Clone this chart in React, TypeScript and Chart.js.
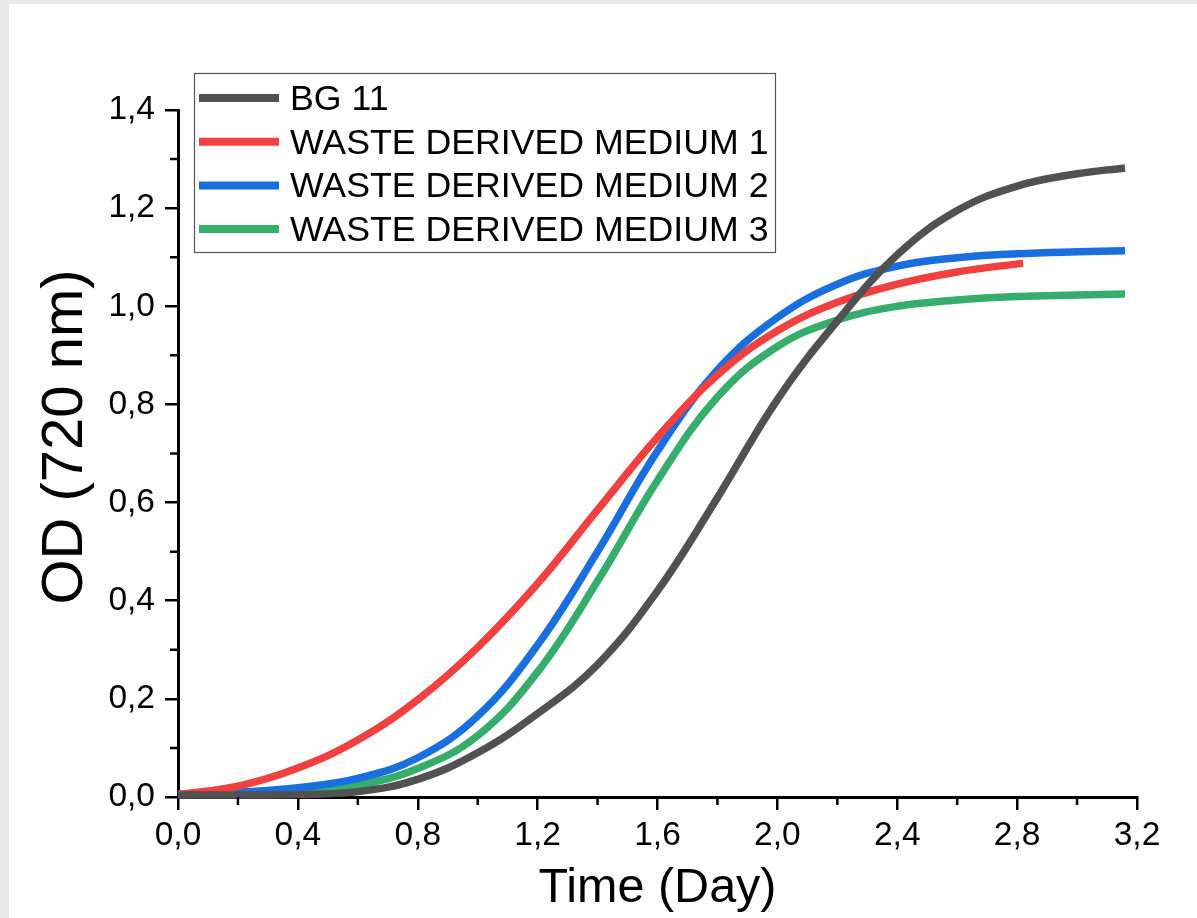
import React, { useEffect, useRef } from "react";
import { Chart, registerables } from "chart.js";

Chart.register(...registerables);

// ---------- data ----------
const seriesLabels = [
  "BG 11",
  "WASTE DERIVED MEDIUM 1",
  "WASTE DERIVED MEDIUM 2",
  "WASTE DERIVED MEDIUM 3",
];
const seriesColors = ["#515151", "#F14040", "#1A6FDF", "#37AD6B"];

const timeFull = [0, 0.2, 0.4, 0.6, 0.8, 1.0, 1.2, 1.4, 1.6, 1.8, 2.0, 2.2, 2.4, 2.6, 2.8, 3.0, 3.16];
const timeMedium1 = [0, 0.2, 0.4, 0.6, 0.8, 1.0, 1.2, 1.4, 1.6, 1.8, 2.0, 2.2, 2.4, 2.6, 2.82];

const odBG11 = [0.004, 0.004, 0.005, 0.011, 0.036, 0.09, 0.17, 0.27, 0.42, 0.61, 0.81, 0.97, 1.105, 1.195, 1.245, 1.27, 1.282];
const odMedium1 = [0.005, 0.022, 0.059, 0.116, 0.198, 0.305, 0.435, 0.585, 0.733, 0.86, 0.95, 1.008, 1.045, 1.07, 1.088];
const odMedium2 = [0.005, 0.01, 0.019, 0.038, 0.08, 0.165, 0.31, 0.5, 0.705, 0.87, 0.977, 1.045, 1.082, 1.099, 1.107, 1.111, 1.113];
const odMedium3 = [0.005, 0.007, 0.011, 0.024, 0.058, 0.125, 0.255, 0.44, 0.645, 0.815, 0.918, 0.972, 1.0, 1.013, 1.02, 1.023, 1.025];

const xMajorTicks = [0, 0.4, 0.8, 1.2, 1.6, 2.0, 2.4, 2.8, 3.2];
const xMinorTicks = [0.2, 0.6, 1.0, 1.4, 1.8, 2.2, 2.6, 3.0];
const yMajorTicks = [0, 0.2, 0.4, 0.6, 0.8, 1.0, 1.2, 1.4];
const yMinorTicks = [0.1, 0.3, 0.5, 0.7, 0.9, 1.1, 1.3];

const xTitle = "Time (Day)";
const yTitle = "OD (720 nm)";

// ---------- helpers ----------
const FONT = "'Liberation Sans', Arial, sans-serif";
const zip = (xs: number[], ys: number[]) => xs.map((x, i) => ({ x, y: ys[i] }));
const fmt = (v: number) => Number(v).toFixed(1).replace(".", ",");

const decorPlugin = {
  id: "decor",
  afterDraw(chart: any) {
    const ctx = chart.ctx as CanvasRenderingContext2D;
    const xs = chart.scales.x;
    const ys = chart.scales.y;
    const area = chart.chartArea;
    ctx.save();
    // minor ticks
    ctx.strokeStyle = "#000";
    ctx.lineWidth = 2.5;
    ctx.beginPath();
    xMinorTicks.forEach((v) => {
      const px = xs.getPixelForValue(v);
      ctx.moveTo(px, area.bottom);
      ctx.lineTo(px, area.bottom + 8);
    });
    yMinorTicks.forEach((v) => {
      const py = ys.getPixelForValue(v);
      ctx.moveTo(area.left, py);
      ctx.lineTo(area.left - 8, py);
    });
    ctx.stroke();

    // axis titles
    ctx.fillStyle = "#000";
    ctx.textAlign = "center";
    ctx.textBaseline = "alphabetic";
    ctx.font = `48.5px ${FONT}`;
    ctx.fillText(xTitle, (area.left + area.right) / 2, 898);
    ctx.save();
    ctx.translate(73, 433);
    ctx.rotate(-Math.PI / 2);
    ctx.font = `58px ${FONT}`;
    ctx.fillText(yTitle, 0, 0);
    ctx.restore();

    // legend
    const bx = 185, by = 69, bw = 581, bh = 179;
    ctx.fillStyle = "#fff";
    ctx.fillRect(bx, by, bw, bh);
    ctx.strokeStyle = "#555";
    ctx.lineWidth = 1.2;
    ctx.strokeRect(bx + 0.5, by + 0.5, bw, bh);
    const rowGap = 43.7;
    chart.data.datasets.forEach((ds: any, i: number) => {
      const cy = 94 + i * rowGap;
      ctx.strokeStyle = ds.borderColor;
      ctx.lineWidth = 8;
      ctx.lineCap = "butt";
      ctx.beginPath();
      ctx.moveTo(190, cy);
      ctx.lineTo(270, cy);
      ctx.stroke();
      ctx.fillStyle = "#000";
      ctx.textAlign = "left";
      ctx.textBaseline = "alphabetic";
      ctx.font = `35.7px ${FONT}`;
      ctx.fillText(ds.label, 281, 106 + i * rowGap);
    });
    ctx.restore();
  },
};

export default function App() {
  const ref = useRef<HTMLCanvasElement | null>(null);

  useEffect(() => {
    if (!ref.current) return;
    const datasets = [
      { label: seriesLabels[0], data: zip(timeFull, odBG11), borderColor: seriesColors[0] },
      { label: seriesLabels[1], data: zip(timeMedium1, odMedium1), borderColor: seriesColors[1] },
      { label: seriesLabels[2], data: zip(timeFull, odMedium2), borderColor: seriesColors[2] },
      { label: seriesLabels[3], data: zip(timeFull, odMedium3), borderColor: seriesColors[3] },
    ].map((d) => ({
      ...d,
      backgroundColor: d.borderColor,
      borderWidth: 7.5,
      pointRadius: 0,
      pointHoverRadius: 0,
      tension: 0.4,
      fill: false,
      clip: false as any,
      borderCapStyle: "butt" as const,
    }));

    const tickFont = { family: FONT, size: 33.5 };

    const chart = new Chart(ref.current, {
      type: "line",
      data: { datasets },
      plugins: [decorPlugin],
      options: {
        animation: false,
        responsive: false,
        devicePixelRatio: 1,
        layout: { padding: { top: 106, right: 60, left: 0, bottom: 0 } },
        plugins: { legend: { display: false }, tooltip: { enabled: false } },
        scales: {
          x: {
            type: "linear",
            min: 0,
            max: 3.2,
            afterBuildTicks: (s: any) => {
              s.ticks = xMajorTicks.map((v) => ({ value: v }));
            },
            afterFit: (s: any) => {
              s.height = 121;
            },
            ticks: {
              autoSkip: false,
              maxRotation: 0,
              color: "#000",
              font: tickFont,
              padding: 6,
              callback: (v: any) => fmt(v),
            },
            grid: {
              display: true,
              drawOnChartArea: false,
              drawTicks: true,
              tickLength: 13,
              color: "#000",
              lineWidth: 2.5,
            },
            border: { display: true, color: "#000", width: 3 },
          },
          y: {
            type: "linear",
            min: 0,
            max: 1.4,
            afterBuildTicks: (s: any) => {
              s.ticks = yMajorTicks.map((v) => ({ value: v }));
            },
            afterFit: (s: any) => {
              s.width = 169;
            },
            ticks: {
              autoSkip: false,
              color: "#000",
              font: tickFont,
              padding: 10,
              callback: (v: any) => fmt(v),
            },
            grid: {
              display: true,
              drawOnChartArea: false,
              drawTicks: true,
              tickLength: 13,
              color: "#000",
              lineWidth: 2.5,
            },
            border: { display: true, color: "#000", width: 3 },
          },
        },
      },
    });
    return () => chart.destroy();
  }, []);

  return (
    <div
      style={{
        position: "absolute",
        left: 0,
        top: 0,
        width: 1197,
        height: 918,
        background: "#e8e8e8",
        overflow: "hidden",
      }}
    >
      <div
        style={{
          position: "absolute",
          left: 9,
          top: 4,
          width: 1188,
          height: 914,
          background: "#fff",
        }}
      >
        <canvas ref={ref} width={1188} height={914} style={{ display: "block" }} />
      </div>
    </div>
  );
}
